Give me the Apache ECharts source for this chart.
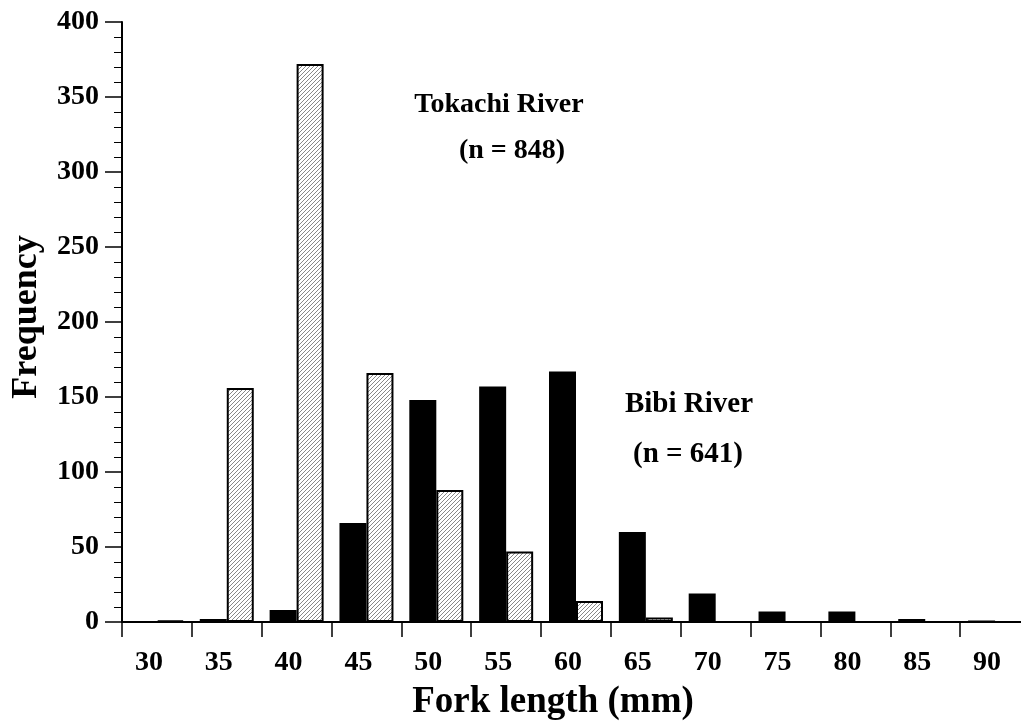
<!DOCTYPE html>
<html>
<head>
<meta charset="utf-8">
<script src="https://cdn.jsdelivr.net/npm/echarts@6/dist/echarts.min.js"></script>
<style>
  html, body { margin: 0; padding: 0; background: #fff; }
  #chart { width: 1021px; height: 727px; }
</style>
</head>
<body>
<div id="chart"></div>
<script>
// fork length classes (mm)
var categories = ['30', '35', '40', '45', '50', '55', '60', '65', '70', '75', '80', '85', '90'];
// Bibi River (n = 641), solid bars
var bibi = [0, 2, 8, 66, 148, 157, 167, 60, 19, 7, 7, 2, 1];
// Tokachi River (n = 848), hatched bars
var tokachi = [1, 156, 372, 166, 88, 47, 14, 3, 0, 0, 0, 0, 0];
var yTicks = [0, 50, 100, 150, 200, 250, 300, 350, 400];

var serif = '"Liberation Serif", "Times New Roman", serif';

// diagonal hatch for the Tokachi bars
function hatch() {
	var c = document.createElement('canvas');
	var s = 4;
	c.width = s; c.height = s;
	var ctx = c.getContext('2d');
	ctx.fillStyle = '#fff';
	ctx.fillRect(0, 0, s, s);
	ctx.strokeStyle = '#7a7a7a';
	ctx.lineWidth = 0.9;
	ctx.beginPath();
	ctx.moveTo(0, s); ctx.lineTo(s, 0);
	ctx.moveTo(-1, 1); ctx.lineTo(1, -1);
	ctx.moveTo(s - 1, s + 1); ctx.lineTo(s + 1, s - 1);
	ctx.stroke();
	return c;
}

var myChart = echarts.init(document.getElementById('chart'));

var option = {
	animation: false,
	grid: { left: 122, top: 22, height: 600, width: 908, outerBoundsMode: 'none' },
	xAxis: {
		type: 'category',
		data: categories,
		name: 'Fork length (mm)',
		nameLocation: 'middle',
		nameGap: 62,
		nameTextStyle: { fontFamily: serif, fontWeight: 'bold', fontSize: 37, color: '#000', padding: [0, 46, 0, 0] },
		axisLine: { lineStyle: { color: '#000', width: 2 } },
		axisTick: { show: true, length: 15, lineStyle: { color: '#000', width: 1.5 } },
		axisLabel: { fontFamily: serif, fontWeight: 'bold', fontSize: 28, color: '#000', margin: 27, padding: [0, 16, 0, 0] }
	},
	yAxis: {
		type: 'value',
		min: 0,
		max: yTicks[yTicks.length - 1],
		interval: 50,
		name: 'Frequency',
		nameLocation: 'middle',
		nameGap: 77,
		nameTextStyle: { fontFamily: serif, fontWeight: 'bold', fontSize: 36, color: '#000', padding: [0, 0, 0, 10] },
		axisLine: { show: true, lineStyle: { color: '#000', width: 2 } },
		axisTick: { show: true, length: 17, lineStyle: { color: '#000', width: 1.5 } },
		minorTick: { show: true, splitNumber: 5, length: 8, lineStyle: { color: '#000', width: 1 } },
		splitLine: { show: false },
		axisLabel: { fontFamily: serif, fontWeight: 'bold', fontSize: 28, color: '#000', margin: 23 }
	},
	series: [
		{
			name: 'Bibi River',
			type: 'bar',
			data: bibi,
			barWidth: 27,
			barGap: '0%',
			itemStyle: { color: '#000' }
		},
		{
			name: 'Tokachi River',
			type: 'bar',
			data: tokachi,
			barWidth: 27,
			itemStyle: {
				color: { image: hatch(), repeat: 'repeat' },
				borderColor: '#000',
				borderWidth: 2
			}
		}
	],
	graphic: [
		{ type: 'text', x: 499, y: 105, style: { text: 'Tokachi River', textAlign: 'center', textVerticalAlign: 'middle', fontFamily: serif, fontWeight: 'bold', fontSize: 28, fill: '#000' } },
		{ type: 'text', x: 512, y: 151, style: { text: '(n = 848)', textAlign: 'center', textVerticalAlign: 'middle', fontFamily: serif, fontWeight: 'bold', fontSize: 28, fill: '#000' } },
		{ type: 'text', x: 689, y: 405, style: { text: 'Bibi River', textAlign: 'center', textVerticalAlign: 'middle', fontFamily: serif, fontWeight: 'bold', fontSize: 29, fill: '#000' } },
		{ type: 'text', x: 688, y: 455, style: { text: '(n = 641)', textAlign: 'center', textVerticalAlign: 'middle', fontFamily: serif, fontWeight: 'bold', fontSize: 29, fill: '#000' } }
	]
};

myChart.setOption(option);
</script>
</body>
</html>
